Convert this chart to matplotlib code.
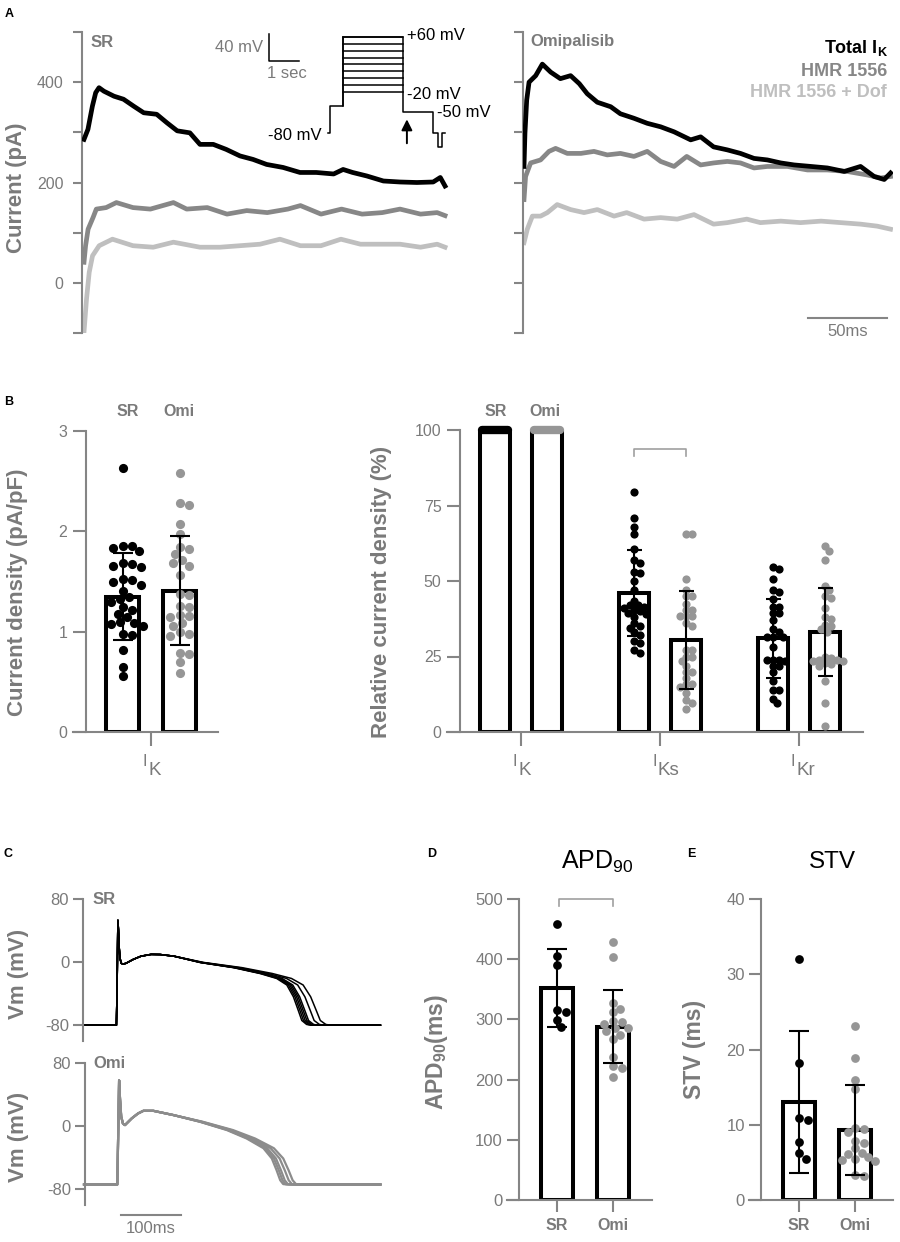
import numpy as np
import matplotlib
matplotlib.use('Agg')
import matplotlib.pyplot as plt

plt.rcParams['font.family'] = ['Liberation Sans', 'DejaVu Sans']
plt.rcParams['mathtext.fontset'] = 'custom'
plt.rcParams['mathtext.rm'] = 'Liberation Sans'
plt.rcParams['mathtext.it'] = 'Liberation Sans:italic'
plt.rcParams['mathtext.bf'] = 'Liberation Sans:bold'

# ---------------- DATA ----------------
# Panel A: current traces (time ms, current pA)
a_sr_total_t = [0, 2.5, 5.3, 7.4, 9.5, 12.6, 19, 25, 31.5, 37.8, 46, 52.5, 59, 67, 73.4, 81.8, 90, 98.7, 107, 115.6,
                126, 136.7, 147, 158, 164, 170, 179, 189.5, 200, 210.7, 221, 225.5, 228.5]
a_sr_total_v = [286, 306, 352, 379, 389, 382, 372, 366, 352, 339, 336, 319, 303, 299, 276, 276, 266, 253, 246, 236,
                230, 220, 220, 217, 226, 220, 213, 203, 201, 200, 201, 210, 193]
a_sr_hmr_t = [0, 1, 2.6, 5.7, 7.8, 14, 20.5, 31, 42, 56.6, 65, 78, 90.5, 103, 116, 129, 137, 150, 163, 176, 188.8,
              200, 213, 223.5, 228.5]
a_sr_hmr_v = [41, 74, 107, 130, 147, 150, 160, 150, 147, 160, 147, 150, 137, 144, 140, 147, 154, 137, 147, 137, 140,
              147, 137, 140, 134]
a_sr_dof_t = [0, 1.6, 3.3, 5.4, 9.6, 18, 31, 43.8, 56.6, 73.4, 86, 98.7, 111.4, 124, 137, 150, 162.6, 175, 188.8,
              200, 213, 223.5, 228.5]
a_sr_dof_v = [-98, -32, 21, 54, 74, 87, 74, 71, 81, 71, 71, 74, 77, 87, 74, 74, 87, 77, 77, 77, 71, 77, 71]

a_om_total_t = [0, 0.6, 1.7, 3.2, 7.4, 11.6, 16.9, 23, 29.5, 35, 40, 46.4, 54.9, 61, 69.6, 78, 86.5, 95, 105.5, 111.8,
                120, 128.7, 137, 145.6, 154, 162.5, 171, 181.6, 192, 202.7, 213, 221.6, 228, 232]
a_om_total_v = [232, 298, 364, 400, 413, 436, 420, 407, 413, 397, 377, 360, 351, 337, 328, 318, 311, 301, 285, 291,
                271, 265, 258, 248, 245, 239, 235, 232, 229, 222, 232, 212, 206, 219]
a_om_hmr_t = [0, 1, 4.2, 10.5, 15.8, 20, 27.4, 36, 44.3, 52.7, 61, 69.6, 78, 86.5, 95, 103, 111.8, 120, 128.7, 137,
              145.6, 154, 166.7, 179.4, 192, 204.6, 217.3, 225.7, 232]
a_om_hmr_v = [166, 212, 239, 245, 262, 268, 258, 258, 262, 255, 258, 252, 262, 242, 232, 252, 235, 239, 242, 239,
              229, 232, 232, 225, 225, 222, 215, 209, 212]
a_om_dof_t = [0, 2.1, 5.3, 10.5, 14.8, 21, 29.5, 38, 46.4, 57, 65, 76, 86.5, 97, 107.6, 120, 128.7, 141, 149.6,
              162.5, 175, 188, 200.5, 213, 223.5, 232]
a_om_dof_v = [80, 107, 133, 133, 140, 156, 146, 140, 146, 133, 140, 127, 130, 127, 136, 117, 120, 127, 120, 123,
              120, 123, 120, 117, 113, 107]
a_yticks = [-100, 0, 100, 200, 300, 400, 500]
a_ylabels = ['', '0', '', '200', '', '400', '']

# voltage protocol (s, mV)
proto_t = [0, 0.07, 0.07, 0.5, 0.5, 2.5, 2.5, 3.5, 3.5, 3.67, 3.67, 3.8, 3.8, 3.9]
proto_v = [-80, -80, -40, -40, 60, 60, -50, -50, -80, -80, -100, -100, -80, -80]
proto_steps = [-20, -10, 0, 10, 20, 30, 40, 50, 60]

# Panel B left: current density (pA/pF)
b_groups = ['SR', 'Omi']
b_dens_sr = [2.63, 1.85, 1.85, 1.83, 1.80, 1.68, 1.67, 1.65, 1.64, 1.52, 1.51, 1.50, 1.47, 1.41, 1.35, 1.33, 1.30,
             1.25, 1.22, 1.18, 1.15, 1.10, 1.09, 1.08, 1.06, 0.98, 0.97, 0.82, 0.65, 0.56]
b_dens_om = [2.58, 2.28, 2.26, 2.07, 1.97, 1.84, 1.82, 1.77, 1.71, 1.68, 1.65, 1.56, 1.38, 1.37, 1.26, 1.25, 1.17,
             1.16, 1.15, 1.09, 1.06, 1.00, 0.98, 0.96, 0.79, 0.78, 0.70, 0.59]
b_dens_mean = [1.35, 1.41]
b_dens_sd = [0.43, 0.54]

# Panel B right: relative current density (%)
b_cur = [('I', 'K'), ('I', 'Ks'), ('I', 'Kr')]
b_rel_mean_sr = [100, 46, 31]
b_rel_mean_om = [100, 30.5, 33]
b_rel_sd_sr = [0, 14.2, 13]
b_rel_sd_om = [0, 16.2, 14.6]
b_iks_sr = [79.5, 71, 68, 65.5, 60.5, 57, 56, 53, 52.5, 50, 47, 43.5, 42, 42, 41.5, 41, 40.5, 40, 39.5, 39, 38, 36,
            35, 34.5, 33, 32, 30, 29.5, 27, 26]
b_iks_om = [65.5, 65.5, 50.5, 47, 45, 45, 42.5, 40.5, 40.5, 38.5, 38.5, 38.5, 36, 35, 27, 27, 25, 25, 23.5, 22, 20,
            20, 18, 16, 16, 15, 13, 10.5, 9.5, 7.5]
b_ikr_sr = [54.5, 54, 50.5, 47, 46.5, 44, 41.5, 41.5, 39.5, 39.5, 37, 34, 33, 31.5, 31.5, 31.5, 28, 24, 24, 24, 23.5,
            22, 22, 20, 17, 14, 14, 11, 9.5]
b_ikr_om = [61.5, 60, 57, 48.5, 47, 45, 44.5, 41, 38, 37.5, 35.5, 35, 34, 33, 25, 24.5, 24, 24, 23.5, 23.5, 23, 22.5,
            22, 17, 9.5, 2]

# Panel C: action potentials (ms, mV)
c_sr_t = [0, 54, 55, 56.5, 57.5, 58.5, 60, 62, 65, 70, 82, 95, 112, 127, 150, 193, 249, 293, 321, 338, 349, 357,
          363, 371, 378]
c_sr_v = [-80, -80, -40, 53, 40, 20, 5, -1.5, -2.5, -1.5, 3.4, 7.5, 9.8, 9.6, 7.5, -0.4, -7, -14.4, -20.7, -29, -44,
          -61, -74, -79, -80]
c_sr_delays = [0, 3, 6, 9, 12, 22, 33]
c_om_t = [0, 55.5, 57, 58.5, 60, 62, 65, 68.3, 79.4, 90, 99, 115.5, 149, 193, 238, 271, 299, 313, 321, 327, 332, 338]
c_om_v = [-74, -74, -10, 58, 35, 12, 3, 1.3, 9.7, 16, 19.4, 19.4, 14, 5.5, -5, -15.7, -28, -41, -56, -68.6, -73.5, -74]
c_om_delays = [0, 4, 8, 15, 22]
c_end_ms = 494

# Panel D: APD90 (ms)
d_sr = [458, 405, 391, 315, 312, 299, 288]
d_om = [428, 404, 327, 318, 312, 297, 296, 293, 286, 285, 280, 274, 267, 237, 222, 219, 204]
d_mean = [352, 288]
d_sd = [65, 61]

# Panel E: STV (ms)
e_sr = [32, 18.2, 10.9, 10.6, 7.7, 6.3, 5.5]
e_om = [23.1, 18.9, 16, 14.8, 9.6, 9.4, 9.1, 7.9, 7.6, 6.9, 6.2, 6.1, 5.7, 5.5, 5.3, 5.2, 3.3, 3.2]
e_mean = [13.0, 9.3]
e_sd = [9.4, 6.0]

# ---------------- STYLE ----------------
W, H = 900, 1242
TXT = '#7a7a7a'
AXC = '#858585'
OMI_DOT = '#969696'
GRAY_TR = '#878787'
LIGHT_TR = '#bfbfbf'
OMI_AP = '#8c8c8c'
BRK = '#a0a0a0'

fig = plt.figure(figsize=(W / 100, H / 100), dpi=100)


def add_ax(x0, y0, x1, y1):
    return fig.add_axes([x0 / W, 1 - y1 / H, (x1 - x0) / W, (y1 - y0) / H])


def ftext(x, y, s, **kw):
    fig.text(x / W, 1 - y / H, s, **kw)


def base_style(ax, tick_len, show_bottom=True):
    for s in ['top', 'right']:
        ax.spines[s].set_visible(False)
    for s in ['left', 'bottom']:
        ax.spines[s].set_color(AXC)
        ax.spines[s].set_linewidth(1.5)
    ax.tick_params(axis='both', direction='out', length=tick_len, width=1.5, color=AXC,
                   labelcolor=TXT, labelsize=11.5)
    ax.set_facecolor('none')
    if not show_bottom:
        ax.spines['bottom'].set_visible(False)
        ax.set_xticks([])


def swarm(ax, xc, vals, diam_px, overlap=0.78):
    tr = ax.transData
    vals = np.asarray(vals, dtype=float)
    pts = tr.transform(np.column_stack([np.full(len(vals), xc), vals]))
    order = np.argsort(-vals, kind='stable')
    placed = []
    xs = np.zeros(len(vals))
    step = diam_px / 4.0
    lim = (diam_px * overlap) ** 2
    for i in order:
        px, py = pts[i]
        cand = px
        for k in range(400):
            off = ((k + 1) // 2) * step * (1 if k % 2 == 1 else -1)
            cand = px + off
            if all((cand - qx) ** 2 + (py - qy) ** 2 >= lim for qx, qy in placed):
                break
        placed.append((cand, py))
        xs[i] = tr.inverted().transform((cand, py))[0]
    return xs


def cur_label(ax, xdata, parts):
    """I with large lowered subscript, drawn under an x tick."""
    xpix = ax.transData.transform((xdata, 0))[0]
    ftext(xpix - 8, 766, parts[0], color=TXT, fontsize=11.5, ha='left', va='baseline')
    ftext(xpix - 2.5, 775, parts[1], color=TXT, fontsize=13.5, ha='left', va='baseline')


# ---------------- PANEL A ----------------
PX_MS_A = 79 / 50.0


def trace_ax(x_spine, x_t0, labels):
    x1 = x_spine + 370
    ax = add_ax(x_spine, 32, x1, 333)
    ax.set_xlim((x_spine - x_t0) / PX_MS_A, (x1 - x_t0) / PX_MS_A)
    ax.set_ylim(-100, 500)
    base_style(ax, 6.5, show_bottom=False)
    ax.set_yticks(a_yticks)
    ax.set_yticklabels(labels)
    ax.tick_params(axis='y', pad=7, labelsize=11.5)
    return ax


TLW = 3.4
axA1 = trace_ax(82, 84, a_ylabels)
axA1.plot(a_sr_total_t, a_sr_total_v, color='black', lw=TLW, zorder=4)
axA1.plot(a_sr_hmr_t, a_sr_hmr_v, color=GRAY_TR, lw=TLW, zorder=3)
axA1.plot(a_sr_dof_t, a_sr_dof_v, color=LIGHT_TR, lw=TLW, zorder=2)

axA2 = trace_ax(523, 524, [''] * len(a_yticks))
axA2.plot(a_om_hmr_t, a_om_hmr_v, color=GRAY_TR, lw=TLW, zorder=3)
axA2.plot(a_om_total_t, a_om_total_v, color='black', lw=TLW, zorder=4)
axA2.plot(a_om_dof_t, a_om_dof_v, color=LIGHT_TR, lw=TLW, zorder=2)
# 50 ms scale bar
axA2.plot([180, 230], [-71, -71], color=AXC, lw=1.5, clip_on=False)
axA2.text(205, -82, '50ms', ha='center', va='top', color=TXT, fontsize=12)

ftext(5, 14, 'A', fontsize=9, fontweight='bold', va='center', ha='left')
ftext(17, 188, 'Current (pA)', rotation=90, ha='center', va='center', color=TXT, fontsize=16, fontweight='bold')
ftext(91, 47, 'SR', color=TXT, fontsize=12, fontweight='bold', va='baseline')
ftext(530, 46, 'Omipalisib', color=TXT, fontsize=12, fontweight='bold', va='baseline')
ftext(888, 53, r'Total I$_{\mathregular{K}}$', color='black', fontsize=13, fontweight='bold', ha='right',
      va='baseline')
ftext(887, 76, 'HMR 1556', color=GRAY_TR, fontsize=13, fontweight='bold', ha='right', va='baseline')
ftext(887, 97, 'HMR 1556 + Dof', color=LIGHT_TR, fontsize=13, fontweight='bold', ha='right', va='baseline')

# protocol inset (30 px / s, 0.686 px / mV)
axP = add_ax(328, 30.1, 445, 153.6)
axP.set_xlim(0, 3.9)
axP.set_ylim(-110, 70)
axP.axis('off')
axP.plot(proto_t, proto_v, color='black', lw=1.1, clip_on=False)
for v in proto_steps:
    axP.plot([0.5, 2.5], [v, v], color='black', lw=1.1, clip_on=False)
axP.plot([0.5, 0.5], [-40, 60], color='black', lw=1.1, clip_on=False)
axP.plot([-1.97, -1.97, -0.97], [65, 25, 25], color='black', lw=1.1, clip_on=False)
axP.text(-2.17, 44, '40 mV', ha='right', va='center', color=TXT, fontsize=12)
axP.text(-1.37, 7, '1 sec', ha='center', va='center', color=TXT, fontsize=12)
axP.text(2.63, 62, '+60 mV', ha='left', va='center', color='black', fontsize=12)
axP.text(2.63, -24, '-20 mV', ha='left', va='center', color='black', fontsize=12)
axP.text(3.63, -50, '-50 mV', ha='left', va='center', color='black', fontsize=12)
axP.text(-0.2, -83, '-80 mV', ha='right', va='center', color='black', fontsize=12)
axP.annotate('', xy=(2.63, -56), xytext=(2.63, -99),
             arrowprops=dict(arrowstyle='-|>', color='black', lw=1.4, mutation_scale=16), annotation_clip=False)

# ---------------- PANEL B left ----------------
ppu = 57.0
axB1 = add_ax(73, 431, 218, 732)
axB1.set_xlim((73 - 151) / ppu, (218 - 151) / ppu)
axB1.set_ylim(0, 3)
base_style(axB1, 9.4)
axB1.spines['left'].set_position(('data', (86 - 151) / ppu))
axB1.spines['left'].set_bounds(0, 3)
axB1.set_yticks([0, 1, 2, 3])
axB1.set_yticklabels(['0', '1', '2', '3'])
axB1.set_xticks([0])
axB1.set_xticklabels([''])
axB1.tick_params(axis='x', length=10)
axB1.tick_params(axis='y', pad=4)
b_pos = [-0.5, 0.5]
wB1 = 33 / ppu
axB1.bar(b_pos, b_dens_mean, width=wB1, color='white', edgecolor='black', linewidth=2.9, zorder=2)
for pos, vals, col in [(b_pos[0], b_dens_sr, 'black'), (b_pos[1], b_dens_om, OMI_DOT)]:
    xs = swarm(axB1, pos, vals, 9.2, overlap=0.9)
    axB1.plot(xs, vals, 'o', color=col, ms=6.6, mew=0, zorder=3, clip_on=False)
axB1.errorbar(b_pos, b_dens_mean, yerr=b_dens_sd, fmt='none', ecolor='black', elinewidth=1.5, capsize=7.2,
              capthick=1.5, zorder=5)
cur_label(axB1, 0, b_cur[0])
ftext(4, 402, 'B', fontsize=9, fontweight='bold', va='center', ha='left')
ftext(18, 592, 'Current density (pA/pF)', rotation=90, ha='center', va='center', color=TXT, fontsize=16,
      fontweight='bold')
ftext(128, 412, b_groups[0], ha='center', va='center', color=TXT, fontsize=11.5, fontweight='bold')
ftext(179, 412, b_groups[1], ha='center', va='center', color=TXT, fontsize=11.5, fontweight='bold')

# ---------------- PANEL B right ----------------
ppu2 = 139.0
axB2 = add_ax(447, 430, 863, 732)
axB2.set_xlim((447 - 521) / ppu2, (863 - 521) / ppu2)
axB2.set_ylim(0, 100)
base_style(axB2, 9.4)
axB2.spines['left'].set_position(('data', (460 - 521) / ppu2))
axB2.spines['left'].set_bounds(0, 100)
axB2.set_yticks([0, 25, 50, 75, 100])
axB2.set_yticklabels(['0', '25', '50', '75', '100'])
axB2.set_xticks([0, 1, 2])
axB2.set_xticklabels([''] * 3)
axB2.tick_params(axis='x', length=10)
axB2.tick_params(axis='y', pad=4)
off = 26 / ppu2
wB2 = 29.5 / ppu2
g = np.arange(3)
axB2.bar(g - off, b_rel_mean_sr, width=wB2, color='white', edgecolor='black', linewidth=2.9, zorder=2)
axB2.bar(g + off, b_rel_mean_om, width=wB2, color='white', edgecolor='black', linewidth=2.9, zorder=2)
# all normalised I_K points sit at 100 %
half_band = (wB2 / 2 + 2 / ppu2) - 4 / ppu2
axB2.plot([g[0] - off - half_band, g[0] - off + half_band], [b_rel_mean_sr[0]] * 2, color='black', lw=6,
          solid_capstyle='round', zorder=3, clip_on=False)
axB2.plot([g[0] + off - half_band, g[0] + off + half_band], [b_rel_mean_om[0]] * 2, color=OMI_DOT, lw=6,
          solid_capstyle='round', zorder=3, clip_on=False)
for pos, vals, col in [(1 - off, b_iks_sr, 'black'), (1 + off, b_iks_om, OMI_DOT),
                       (2 - off, b_ikr_sr, 'black'), (2 + off, b_ikr_om, OMI_DOT)]:
    xs = swarm(axB2, pos, vals, 8.2, overlap=0.72)
    axB2.plot(xs, vals, 'o', color=col, ms=5.9, mew=0, zorder=3)
axB2.errorbar(g[1:] - off, b_rel_mean_sr[1:], yerr=b_rel_sd_sr[1:], fmt='none', ecolor='black', elinewidth=1.5,
              capsize=5.4, capthick=1.5, zorder=5)
axB2.errorbar(g[1:] + off, b_rel_mean_om[1:], yerr=b_rel_sd_om[1:], fmt='none', ecolor='black', elinewidth=1.5,
              capsize=5.4, capthick=1.5, zorder=5)
axB2.plot([1 - off, 1 - off, 1 + off, 1 + off], [91.4, 93.7, 93.7, 91.4], color=BRK, lw=1.2, clip_on=False)
for gi in g:
    cur_label(axB2, gi, b_cur[gi])
ftext(382, 592, 'Relative current density (%)', rotation=90, ha='center', va='center', color=TXT, fontsize=16,
      fontweight='bold')
ftext(496, 412, b_groups[0], ha='center', va='center', color=TXT, fontsize=11.5, fontweight='bold')
ftext(545, 412, b_groups[1], ha='center', va='center', color=TXT, fontsize=11.5, fontweight='bold')

# ---------------- PANEL C ----------------
PX_MS_C = 0.6


def ap_ax(y_top, x_spine):
    ax = add_ax(73, y_top, 382, y_top + 142)
    ax.set_xlim((73 - 84) / PX_MS_C, (382 - 84) / PX_MS_C)
    ax.set_ylim(-100, 80)
    base_style(ax, 7.2, show_bottom=False)
    ax.spines['left'].set_position(('data', (x_spine - 84) / PX_MS_C))
    ax.set_yticks([-80, 0, 80])
    ax.set_yticklabels(['-80', '0', '80'])
    ax.tick_params(axis='y', labelsize=12, pad=3)
    return ax


def stretched(t, delay, t_start=150.0, t_rep=None):
    t = np.asarray(t, dtype=float)
    t_rep = t[-1] if t_rep is None else t_rep
    s = 1 + delay / (t_rep - t_start)
    return np.where(t > t_start, t_start + (t - t_start) * s, t)


axC1 = ap_ax(899, 83.3)
for d in c_sr_delays:
    tt = stretched(c_sr_t, d)
    axC1.plot(list(tt) + [c_end_ms], c_sr_v + [c_sr_v[-1]], color='black', lw=1.1)
axC2 = ap_ax(1063, 85)
for d in c_om_delays:
    tt = stretched(c_om_t, d)
    axC2.plot(list(tt) + [c_end_ms], c_om_v + [c_om_v[-1]], color=OMI_AP, lw=1.6)
axC2.plot([61.7, 161.7], [-113, -113], color=AXC, lw=1.5, clip_on=False)
axC2.text(111.7, -120, '100ms', ha='center', va='top', color=TXT, fontsize=12)
ftext(4, 854, 'C', fontsize=9, fontweight='bold', va='center', ha='left')
ftext(93, 899, 'SR', color=TXT, fontsize=12, fontweight='bold', va='center')
ftext(93, 1063, 'Omi', color=TXT, fontsize=12, fontweight='bold', va='center')
ftext(19, 974, 'Vm (mV)', rotation=90, ha='center', va='center', color=TXT, fontsize=16, fontweight='bold')
ftext(19, 1137, 'Vm (mV)', rotation=90, ha='center', va='center', color=TXT, fontsize=16, fontweight='bold')


# ---------------- PANELS D, E ----------------
def dot_ax(x0, x_spine, x1, ymax, yticks):
    ppu3 = 56.0
    ax = add_ax(x0, 899, x1, 1200)
    ax.set_xlim((x0 - (x0 + 50)) / ppu3, (x1 - (x0 + 50)) / ppu3)
    ax.set_ylim(0, ymax)
    base_style(ax, 8.6)
    ax.spines['left'].set_position(('data', (x_spine - (x0 + 50)) / ppu3))
    ax.spines['left'].set_bounds(0, ymax)
    ax.set_yticks(yticks)
    ax.set_yticklabels([str(v) for v in yticks])
    ax.set_xticks([0, 1])
    ax.set_xticklabels(b_groups, fontweight='bold')
    ax.tick_params(axis='x', length=8.6, labelsize=11.5, pad=4)
    ax.tick_params(axis='y', labelsize=12, pad=3)
    return ax, ppu3


def dot_panel(ax, ppu3, sr, om, mean, sd):
    ax.bar([0, 1], mean, width=32 / ppu3, color='white', edgecolor='black', linewidth=2.9, zorder=2)
    for pos, vals, col in [(0, sr, 'black'), (1, om, OMI_DOT)]:
        xs = swarm(ax, pos, vals, 8.8, overlap=0.85)
        ax.plot(xs, vals, 'o', color=col, ms=6.3, mew=0, zorder=3, clip_on=False)
    ax.errorbar([0, 1], mean, yerr=sd, fmt='none', ecolor='black', elinewidth=1.5, capsize=7.2, capthick=1.5,
                zorder=5)


axD, pD = dot_ax(507, 519, 652, 500, [0, 100, 200, 300, 400, 500])
dot_panel(axD, pD, d_sr, d_om, d_mean, d_sd)
axD.plot([0.03, 0.03, 1, 1], [488, 500, 500, 488], color=BRK, lw=1.2, clip_on=False)
axE, pE = dot_ax(749, 761, 893, 40, [0, 10, 20, 30, 40])
dot_panel(axE, pE, e_sr, e_om, e_mean, e_sd)

ftext(427, 854, 'D', fontsize=9, fontweight='bold', va='center', ha='left')
ftext(687, 854, 'E', fontsize=9, fontweight='bold', va='center', ha='left')
ftext(597, 862, r'APD$_{\mathregular{90}}$', ha='center', va='center', color='black', fontsize=18)
ftext(832, 862, 'STV', ha='center', va='center', color='black', fontsize=17.5)
ftext(436, 1052, r'APD$_{\mathregular{90}}$(ms)', rotation=90, ha='center', va='center', color=TXT, fontsize=16.5,
      fontweight='bold')
ftext(694, 1049, 'STV (ms)', rotation=90, ha='center', va='center', color=TXT, fontsize=16.5, fontweight='bold')

fig.savefig('out.png', dpi=100)
